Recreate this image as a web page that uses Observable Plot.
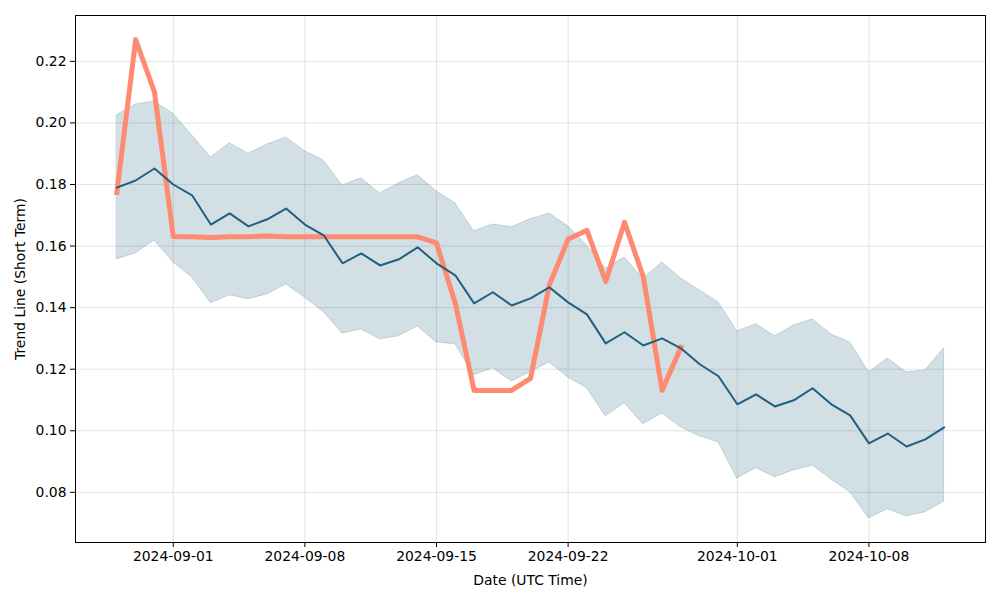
<!DOCTYPE html>
<html>
<head>
<meta charset="utf-8">
<script src="https://cdn.jsdelivr.net/npm/d3@7"></script>
<script src="https://cdn.jsdelivr.net/npm/@observablehq/plot@0.6"></script>
<style>
  html, body { margin: 0; padding: 0; background: #fff; }
</style>
</head>
<body>
<div id="chart"></div>
<script>
const dates = [
  "2024-08-29","2024-08-30","2024-08-31","2024-09-01","2024-09-02","2024-09-03","2024-09-04","2024-09-05",
  "2024-09-06","2024-09-07","2024-09-08","2024-09-09","2024-09-10","2024-09-11","2024-09-12","2024-09-13",
  "2024-09-14","2024-09-15","2024-09-16","2024-09-17","2024-09-18","2024-09-19","2024-09-20","2024-09-21",
  "2024-09-22","2024-09-23","2024-09-24","2024-09-25","2024-09-26","2024-09-27","2024-09-28","2024-09-29",
  "2024-09-30","2024-10-01","2024-10-02","2024-10-03","2024-10-04","2024-10-05","2024-10-06","2024-10-07",
  "2024-10-08","2024-10-09","2024-10-10","2024-10-11","2024-10-12"
];
const trendMid = [
  0.1790,0.1813,0.1852,0.1800,0.1765,0.1670,0.1706,0.1664,0.1687,0.1722,0.1670,0.1635,0.1544,0.1576,0.1537,
  0.1557,0.1596,0.1544,0.1505,0.1414,0.1450,0.1407,0.1430,0.1466,0.1417,0.1378,0.1284,0.1320,0.1277,0.1300,
  0.1268,0.1216,0.1177,0.1086,0.1118,0.1079,0.1099,0.1138,0.1086,0.1050,0.0959,0.0991,0.0949,0.0972,0.1011
];
const trendUpper = [
  0.2025,0.2060,0.2070,0.2030,0.1960,0.1888,0.1934,0.1900,0.1930,0.1953,0.1908,0.1878,0.1797,0.1820,0.1771,
  0.1804,0.1830,0.1778,0.1739,0.1648,0.1670,0.1661,0.1687,0.1706,0.1664,0.1602,0.1527,0.1563,0.1492,0.1547,
  0.1495,0.1456,0.1417,0.1323,0.1346,0.1307,0.1342,0.1362,0.1313,0.1287,0.1190,0.1235,0.1190,0.1196,0.1268
];
const trendLower = [
  0.1557,0.1576,0.1618,0.1547,0.1498,0.1414,0.1440,0.1427,0.1443,0.1475,0.1433,0.1385,0.1316,0.1329,0.1297,
  0.1307,0.1339,0.1287,0.1281,0.1180,0.1203,0.1160,0.1190,0.1222,0.1173,0.1138,0.1047,0.1089,0.1021,0.1056,
  0.1011,0.0982,0.0962,0.0845,0.0878,0.0849,0.0871,0.0887,0.0842,0.0800,0.0715,0.0745,0.0722,0.0735,0.0770
];
const actual = [
  0.1774,0.2271,0.2100,0.1631,0.1630,0.1628,0.1630,0.1630,0.1633,0.1630,0.1630,0.1630,0.1630,0.1630,0.1630,
  0.1630,0.1630,0.1610,0.1414,0.1131,0.1131,0.1131,0.1170,0.1473,0.1622,0.1651,0.1485,0.1677,0.1500,0.1131,
  0.1271
];
const xTicks = ["2024-09-01","2024-09-08","2024-09-15","2024-09-22","2024-10-01","2024-10-08"];
const yTicks = [0.08,0.10,0.12,0.14,0.16,0.18,0.20,0.22];

const parse = d3.utcParse("%Y-%m-%d");
const band = dates.map((d, i) => ({date: parse(d), mid: trendMid[i], hi: trendUpper[i], lo: trendLower[i]}));
const act = actual.map((v, i) => ({date: parse(dates[i]), v}));
const xt = xTicks.map(parse);

const x0 = parse(dates[0]).getTime(), x1 = parse(dates[dates.length - 1]).getTime();
const pad = (x1 - x0) * 0.05;

const chart = Plot.plot({
  width: 1000,
  height: 600,
  marginLeft: 75,
  marginRight: 15,
  marginTop: 15,
  marginBottom: 58,
  style: {fontFamily: "DejaVu Sans", fontSize: "13.9px", color: "black", background: "white"},
  x: {type: "utc", domain: [new Date(x0 - pad), new Date(x1 + pad)]},
  y: {domain: [0.0637, 0.2349]},
  marks: [
    Plot.gridX(xt, {stroke: "#b0b0b0", strokeOpacity: 0.45, strokeWidth: 0.8}),
    Plot.gridY(yTicks, {stroke: "#b0b0b0", strokeOpacity: 0.45, strokeWidth: 0.8}),
    Plot.areaY(band, {x: "date", y1: "lo", y2: "hi", fill: "#1f5f7f", fillOpacity: 0.2,
      stroke: "#1f5f7f", strokeOpacity: 0.2, strokeWidth: 1}),
    Plot.lineY(act, {x: "date", y: "v", stroke: "#ff8a72", strokeWidth: 5,
      strokeLinejoin: "round", strokeLinecap: "square"}),
    Plot.lineY(band, {x: "date", y: "mid", stroke: "#1f5f7f", strokeWidth: 2}),
    Plot.frame({stroke: "black", strokeWidth: 1}),
    Plot.axisX(xt, {tickFormat: d3.utcFormat("%Y-%m-%d"), tickSize: 5, tickPadding: 4,
      label: "Date (UTC Time)", labelAnchor: "center", labelArrow: "none", labelOffset: 42}),
    Plot.axisY(yTicks, {tickFormat: d3.format(".2f"), tickSize: 5, tickPadding: 4,
      label: "Trend Line (Short Term)", labelAnchor: "center", labelArrow: "none", labelOffset: 60})
  ]
});
document.getElementById("chart").appendChild(chart);
</script>
</body>
</html>
